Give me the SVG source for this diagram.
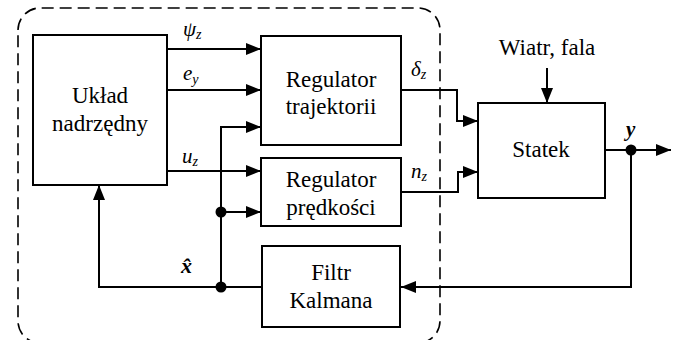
<svg xmlns="http://www.w3.org/2000/svg" width="680" height="340" viewBox="0 0 680 340">
  <style>
    .box { fill: #fff; stroke: #000; stroke-width: 2; }
    .arrow { fill: none; stroke: #000; stroke-width: 2; marker-end: url(#head); }
    .dot { fill: #000; }
    .frame { fill: none; stroke: #000; stroke-width: 1.6; stroke-dasharray: 12 6; }
    text { font-family: 'Liberation Serif', 'Times New Roman', serif; fill: #000; }
    .lbl { font-size: 23px; text-anchor: middle; }
    .sym { font-size: 21px; font-style: italic; }
    .sub { font-size: 14px; }
    .bold { font-weight: bold; }
  </style>
  <defs>
    <marker id="head" markerUnits="userSpaceOnUse" markerWidth="16" markerHeight="12" refX="15" refY="6" orient="auto">
      <path d="M0,0 L15,6 L0,12 Z" fill="#000"/>
    </marker>
  </defs>

  <rect width="680" height="340" fill="#fff"/>

  <!-- dashed boundary of the control system -->
  <path class="frame" d="M18,30 A22,22 0 0 1 40,8 H418 A22,22 0 0 1 440,30 V321 A22,22 0 0 1 418,343 H40 A22,22 0 0 1 18,321 Z"/>

  <!-- connectors -->
  <g id="connectors">
    <path class="arrow" d="M167,49 H261"/>
    <path class="arrow" d="M167,90 H261"/>
    <path class="arrow" d="M221,287 V127 H261"/>
    <path class="arrow" d="M167,171 H261"/>
    <path class="arrow" d="M221,212 H261"/>
    <path class="arrow" d="M262,287 H99 V185"/>
    <path class="arrow" d="M401,90 H457 V121 H478"/>
    <path class="arrow" d="M401,192 H458 V172 H478"/>
    <path class="arrow" d="M547,68 V103"/>
    <path class="arrow" d="M605,150 H671"/>
    <path class="arrow" d="M631,150 V287 H401"/>
    <circle class="dot" cx="221" cy="212" r="5.5"/>
    <circle class="dot" cx="221" cy="287" r="5.5"/>
    <circle class="dot" cx="631" cy="150" r="5.5"/>
  </g>

  <!-- signal labels -->
  <g id="signals">
    <text class="sym" x="183" y="36">ψ<tspan class="sub" dy="3">z</tspan></text>
    <text class="sym" x="183" y="80">e<tspan class="sub" dy="4">y</tspan></text>
    <text class="sym" x="182" y="163">u<tspan class="sub" dy="3">z</tspan></text>
    <text class="sym" x="411" y="76">δ<tspan class="sub" dy="3">z</tspan></text>
    <text class="sym" x="411" y="178">n<tspan class="sub" dy="3">z</tspan></text>
    <text class="sym bold" x="626" y="136">y</text>
    <text class="sym bold" x="181" y="273" style="font-size:22px">x̂</text>
    <text class="lbl" x="547" y="55">Wiatr, fala</text>
  </g>

  <g id="uklad">
    <rect class="box" x="33" y="35" width="134" height="150"/>
    <text class="lbl" x="100" y="103">Układ</text>
    <text class="lbl" x="100" y="131">nadrzędny</text>
  </g>

  <g id="reg-traj">
    <rect class="box" x="261" y="36" width="140" height="109"/>
    <text class="lbl" x="331" y="87">Regulator</text>
    <text class="lbl" x="331" y="114">trajektorii</text>
  </g>

  <g id="reg-pred">
    <rect class="box" x="261" y="158" width="140" height="68"/>
    <text class="lbl" x="331" y="187">Regulator</text>
    <text class="lbl" x="331" y="215">prędkości</text>
  </g>

  <g id="kalman">
    <rect class="box" x="262" y="246" width="138" height="81"/>
    <text class="lbl" x="331" y="280">Filtr</text>
    <text class="lbl" x="331" y="308">Kalmana</text>
  </g>

  <g id="statek">
    <rect class="box" x="478" y="103" width="127" height="95"/>
    <text class="lbl" x="541" y="157">Statek</text>
  </g>
</svg>
